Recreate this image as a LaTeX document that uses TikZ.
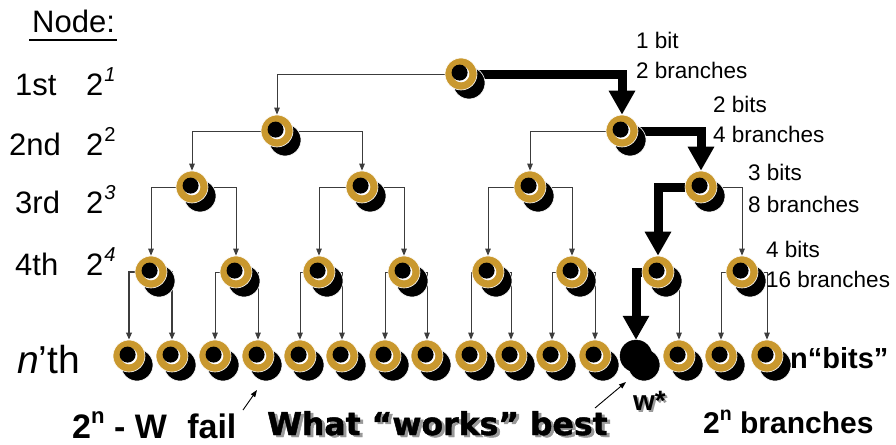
\documentclass[tikz,border=0pt]{standalone}
\usepackage{fontspec}
\setmainfont{Liberation Sans}
\newfontfamily\heavyfont{DejaVu Sans}[BoldFeatures={FakeBold=1.5}]
\usepackage{graphicx}
\usetikzlibrary{arrows.meta,shadows}

\definecolor{ringgold}{RGB}{201,152,46}
\definecolor{wire}{RGB}{60,60,60}

\pgfdeclarelayer{wires}
\pgfsetlayers{wires,main}

% raised, shrunk exponent in the current font
\newcommand{\powr}[1]{\raisebox{0.42em}{\scalebox{0.65}{#1}}}

\tikzset{
  bitnode/.style={circle, inner sep=0pt, minimum size=32pt,
    fill=ringgold, draw=white, line width=0.6pt,
    drop shadow={shadow xshift=8pt, shadow yshift=-9pt, opacity=1,
      fill=black, draw=white, line width=0.6pt},
    path picture={
      \fill[white] (path picture bounding box.center) circle (8.3pt);
      \fill[black] ([shift={(-1.4pt,1.4pt)}]path picture bounding box.center) circle (8pt);
    }},
  winnode/.style={circle, inner sep=0pt, minimum size=32pt,
    fill=black, draw=black,
    drop shadow={shadow xshift=8pt, shadow yshift=-9pt, opacity=1,
      fill=black, draw=white, line width=0.6pt}},
  link/.style={draw=wire, line width=0.9pt, -{Triangle[width=5.5pt,length=7pt]}},
  winpath/.style={draw=black, line width=9pt, -{Triangle[width=25pt,length=24pt]}},
  pointer/.style={draw=black, line width=0.9pt, -{Triangle[width=5pt,length=7pt]}},
  rowtxt/.style={anchor=base west, inner sep=0pt, font=\fontsize{31}{31}\selectfont},
  bittxt/.style={anchor=base west, inner sep=0pt, align=left, font=\fontsize{22.5}{30}\selectfont},
  boldtxt/.style={anchor=base west, inner sep=0pt, font=\bfseries\fontsize{30}{30}\selectfont},
  heavytxt/.style={anchor=base west, inner sep=0pt, font=\heavyfont\bfseries\fontsize{31.5}{31.5}\selectfont},
}

\begin{document}
\begin{tikzpicture}[x=1pt, y=-1pt]
\useasboundingbox (0,0) rectangle (896,444);

%--- tree levels
\node[bitnode] (L1) at (461,74) {};
\foreach \x [count=\i] in {277,622}
  \node[bitnode] (L2-\i) at (\x,131) {};
\foreach \x [count=\i] in {192,362,530,701}
  \node[bitnode] (L3-\i) at (\x,187) {};
\foreach \x [count=\i] in {151,236,319,404,488,572,658,742}
  \node[bitnode] (L4-\i) at (\x,272) {};
\foreach \x [count=\i] in {129,172,215,258,300,342,385,427,471,511,552,595,636,679,721,767} {
  \ifnum\i=13
    \node[winnode] (L5-\i) at (\x,356) {};
  \else
    \node[bitnode] (L5-\i) at (\x,356) {};
  \fi
}

%--- branches (behind the rings)
\begin{pgfonlayer}{wires}
  \foreach \c in {1,2} {
    \ifnum\c=2\else \draw[link] (L1) -| (L2-\c); \fi
  }
  \foreach \c in {1,...,4} {
    \pgfmathtruncatemacro{\p}{(\c+1)/2}
    \ifnum\c=4\else \draw[link] (L2-\p) -| (L3-\c); \fi
  }
  \foreach \c in {1,...,8} {
    \pgfmathtruncatemacro{\p}{(\c+1)/2}
    \ifnum\c=7\else \draw[link] (L3-\p) -| (L4-\c); \fi
  }
  \foreach \c in {1,...,16} {
    \pgfmathtruncatemacro{\p}{(\c+1)/2}
    \pgfmathsetmacro{\lw}{ifthenelse(\p==1,1.8,0.9)}
    \ifnum\c=13\else \draw[link, line width=\lw pt] (L4-\p) -| (L5-\c); \fi
  }
  % the winning path
  \draw[winpath] (L1) -| (L2-2);
  \draw[winpath] (L2-2) -| (L3-4);
  \draw[winpath] (L3-4) -| (L4-7);
  \draw[winpath] (L4-7) -| (L5-13);
\end{pgfonlayer}

%--- level labels on the left
\node[rowtxt] (hdr) at (32,33) {Node:};
\draw[line width=2pt] ([shift={(-3,7)}]hdr.base west) -- ([shift={(2,7)}]hdr.base east);
\node[rowtxt] (ord1) at (15,95) {1st};
\node[rowtxt] (pow1) at (86,95) {2\kern1pt\powr{\itshape 1}};
\node[rowtxt] (ord2) at (9,155) {2nd};
\node[rowtxt] (pow2) at (86,155) {2\kern1pt\powr{2}};
\node[rowtxt] (ord3) at (15,213) {3rd};
\node[rowtxt] (pow3) at (86,213) {2\kern1pt\powr{\itshape 3}};
\node[rowtxt] (ord4) at (15,275) {4th};
\node[rowtxt] (pow4) at (86,275) {2\kern1pt\powr{\itshape 4}};
\node[rowtxt, font=\fontsize{39}{39}\selectfont] (nth) at (17,373) {\textit{n}’th};

%--- bits / branches on the right (base = last line)
\node[bittxt] (bit1) at (636,78) {1 bit\\2 branches};
\node[bittxt] (bit2) at (713,142) {2 bits\\4 branches};
\node[bittxt, font=\fontsize{22.5}{32}\selectfont] (bit3) at (748,212) {3 bits\\8 branches};
\node[bittxt] (bit4) at (766,287) {4 bits\\16 branches};
\node[boldtxt, font=\bfseries\fontsize{29}{29}\selectfont] (nbits) at (790,368) {n“bits”};

%--- bottom captions
\node[boldtxt, font=\bfseries\fontsize{34}{34}\selectfont] (failtxt) at (72,438) {2\powr{n} - W\hspace{0.6em}fail};
\node[heavytxt, text=black!40] (bestshade) at (270,437) {What “works” best};
\node[heavytxt] (besttxt) at (267,435) {What “works” best};
\node[boldtxt, font=\bfseries\fontsize{28}{28}\selectfont, text=black!40] (wshade) at (635,412) {w*};
\node[boldtxt, font=\bfseries\fontsize{28}{28}\selectfont] (wstar) at (633,410) {w*};
\node[boldtxt] (brtxt) at (703,433) {2\powr{n} branches};

% pointers up to the leaves
\coordinate (failfoot) at (243,410);
\path (L5-4) ++(-1,34) coordinate (failtip);
\draw[pointer] (failfoot) -- (failtip);
\coordinate (wfoot) at (595,408);
\path (L5-13) ++(-10,26) coordinate (wtip);
\draw[pointer] (wfoot) -- (wtip);
\end{tikzpicture}
\end{document}
